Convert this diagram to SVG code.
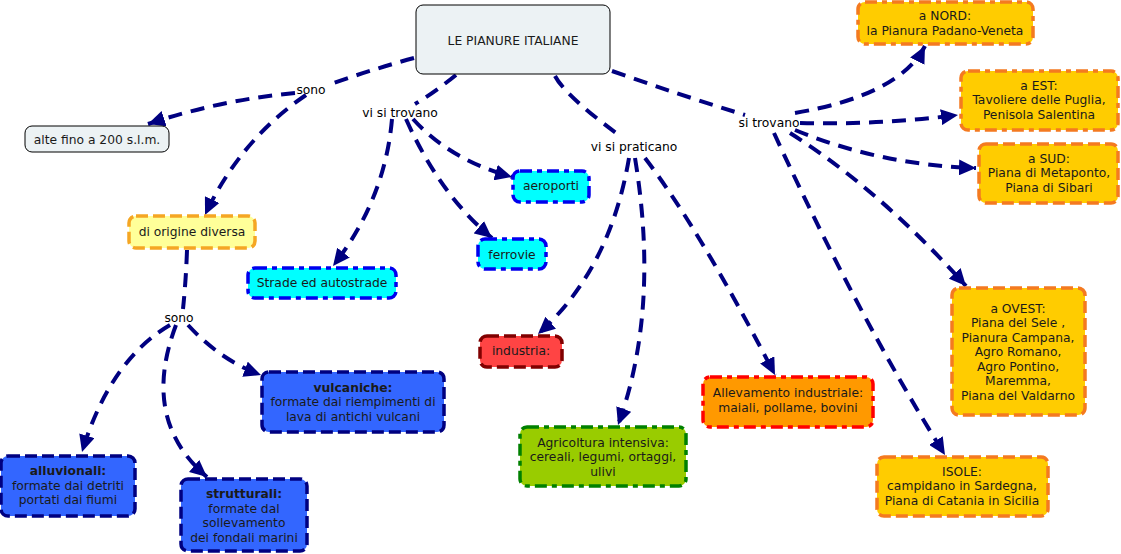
<svg xmlns="http://www.w3.org/2000/svg" width="1121" height="554" viewBox="0 0 1121 554">
<defs>
<marker id="ah" markerUnits="userSpaceOnUse" markerWidth="18" markerHeight="16" viewBox="0 0 18 16" refX="17" refY="8" orient="auto">
<path d="M0,0 L17,8 L0,16 Z" fill="#000080"/>
</marker>
</defs>
<style>
text{font-family:"DejaVu Sans","Liberation Sans",sans-serif;font-size:12.3px;fill:#1a1a1a;text-anchor:middle}
.lbl{fill:#000}
.c{fill:none;stroke:#000080;stroke-width:4;stroke-dasharray:14,9}
.a{marker-end:url(#ah)}
.plain{fill:#ecf2f4;stroke:#000;stroke-width:1}
.dash{stroke-width:3.5;stroke-dasharray:12,5}
.dd{stroke-width:3.5;stroke-dasharray:12,5,5,5}
.yel{fill:#ffff99;stroke:#f5a623}
.cy{fill:#00ffff;stroke:#0000ee}
.red{fill:#ff4444;stroke:#800000}
.grn{fill:#99cc00;stroke:#008000}
.org{fill:#ff9900;stroke:#ff0000}
.gold{fill:#ffcc00;stroke:#f47a20}
.blu{fill:#3366ff;stroke:#000080}
.b{font-weight:bold}
</style>
<g id="connectors">
<path class="c" d="M414,58 Q370,70 328,85"/>
<path class="c a" d="M295,93 Q220,100 148,124"/>
<path class="c a" d="M306,95 Q240,140 205,215"/>
<path class="c" d="M456,75 Q435,92 415,104"/>
<path class="c a" d="M392,119 Q385,200 333,266"/>
<path class="c a" d="M406,119 Q440,195 492,238"/>
<path class="c a" d="M413,119 Q450,160 512,177"/>
<path class="c" d="M555,76 Q565,95 616,133"/>
<path class="c a" d="M629,158 Q610,270 538,334"/>
<path class="c a" d="M635,158 Q660,310 618,425"/>
<path class="c a" d="M645,158 Q700,230 775,375"/>
<path class="c" d="M612,71 Q680,95 745,115"/>
<path class="c a" d="M795,113 Q900,95 925,46"/>
<path class="c a" d="M800,123 Q880,125 958,115"/>
<path class="c a" d="M795,130 Q880,165 976,168"/>
<path class="c a" d="M790,133 Q880,190 966,286"/>
<path class="c a" d="M774,133 Q860,320 945,455"/>
<path class="c" d="M187,250 Q186,280 183,309"/>
<path class="c a" d="M170,325 Q110,360 82,452"/>
<path class="c a" d="M176,325 Q140,420 207,477"/>
<path class="c a" d="M188,325 Q220,360 261,375"/>
</g>
<g id="n-main"><rect class="plain" x="416" y="5" width="194" height="69" rx="7"/><text x="513" y="45">LE PIANURE ITALIANE</text></g>
<g id="n-alte"><rect class="plain" x="25" y="126" width="144" height="26" rx="7"/><text x="97" y="144">alte fino a 200 s.l.m.</text></g>
<g id="l-sono1"><text class="lbl" x="311" y="94">sono</text></g>
<g id="l-visitrovano"><text class="lbl" x="400" y="117">vi si trovano</text></g>
<g id="l-vispraticano"><text class="lbl" x="634" y="151">vi si praticano</text></g>
<g id="l-sitrovano"><text class="lbl" x="769" y="127">si trovano</text></g>
<g id="l-sono2"><text class="lbl" x="179" y="322">sono</text></g>
<g id="n-origine"><rect class="yel dash" x="129" y="216" width="126" height="32" rx="7"/><text x="192" y="236">di origine diversa</text></g>
<g id="n-strade"><rect class="cy dd" x="248" y="268" width="148" height="30" rx="7"/><text x="322" y="287">Strade ed autostrade</text></g>
<g id="n-aeroporti"><rect class="cy dd" x="513" y="171" width="76" height="31" rx="7"/><text x="551" y="190">aeroporti</text></g>
<g id="n-ferrovie"><rect class="cy dd" x="478" y="239" width="68" height="30" rx="7"/><text x="512" y="259">ferrovie</text></g>
<g id="n-industria"><rect class="red dash" x="480" y="336" width="82" height="31" rx="7"/><text x="521" y="355">industria:</text></g>
<g id="n-agricoltura"><rect class="grn dd" x="520" y="427" width="166" height="59" rx="7"/><text x="603" y="447">Agricoltura intensiva:</text><text x="603" y="461">cereali, legumi, ortaggi,</text><text x="603" y="476">ulivi</text></g>
<g id="n-allevamento"><rect class="org dd" x="703" y="377" width="170" height="50" rx="7"/><text x="788" y="397">Allevamento industriale:</text><text x="788" y="412">maiali, pollame, bovini</text></g>
<g id="n-nord"><rect class="gold dd" x="858" y="2" width="175" height="42" rx="7"/><text x="945" y="20">a NORD:</text><text x="945" y="35">la Pianura Padano-Veneta</text></g>
<g id="n-est"><rect class="gold dd" x="961" y="71" width="157" height="59" rx="7"/><text x="1039" y="90">a EST:</text><text x="1039" y="104">Tavoliere delle Puglia,</text><text x="1039" y="119">Penisola Salentina</text></g>
<g id="n-sud"><rect class="gold dash" x="979" y="144" width="139" height="59" rx="7"/><text x="1049" y="163">a SUD:</text><text x="1049" y="177">Piana di Metaponto,</text><text x="1049" y="192">Piana di Sibari</text></g>
<g id="n-ovest"><rect class="gold dash" x="952" y="288" width="133" height="127" rx="7"/><text x="1018" y="313">a OVEST:</text><text x="1018" y="327">Piana del Sele ,</text><text x="1018" y="342">Pianura Campana,</text><text x="1018" y="356">Agro Romano,</text><text x="1018" y="371">Agro Pontino,</text><text x="1018" y="385">Maremma,</text><text x="1018" y="400">Piana del Valdarno</text></g>
<g id="n-isole"><rect class="gold dash" x="877" y="457" width="171" height="59" rx="7"/><text x="962" y="476">ISOLE:</text><text x="962" y="490">campidano in Sardegna,</text><text x="962" y="505">Piana di Catania in Sicilia</text></g>
<g id="n-vulcaniche"><rect class="blu dash" x="262" y="372" width="182" height="60" rx="7"/><text class="b" x="353" y="392">vulcaniche:</text><text x="353" y="406">formate dai riempimenti di</text><text x="353" y="421">lava di antichi vulcani</text></g>
<g id="n-alluvionali"><rect class="blu dash" x="1" y="456" width="134" height="60" rx="7"/><text class="b" x="68" y="475">alluvionali:</text><text x="68" y="490">formate dai detriti</text><text x="68" y="504">portati dai fiumi</text></g>
<g id="n-strutturali"><rect class="blu dash" x="181" y="479" width="126" height="72" rx="7"/><text class="b" x="244" y="498">strutturali:</text><text x="244" y="513">formate dal</text><text x="244" y="527">sollevamento</text><text x="244" y="542">dei fondali marini</text></g>
</svg>
